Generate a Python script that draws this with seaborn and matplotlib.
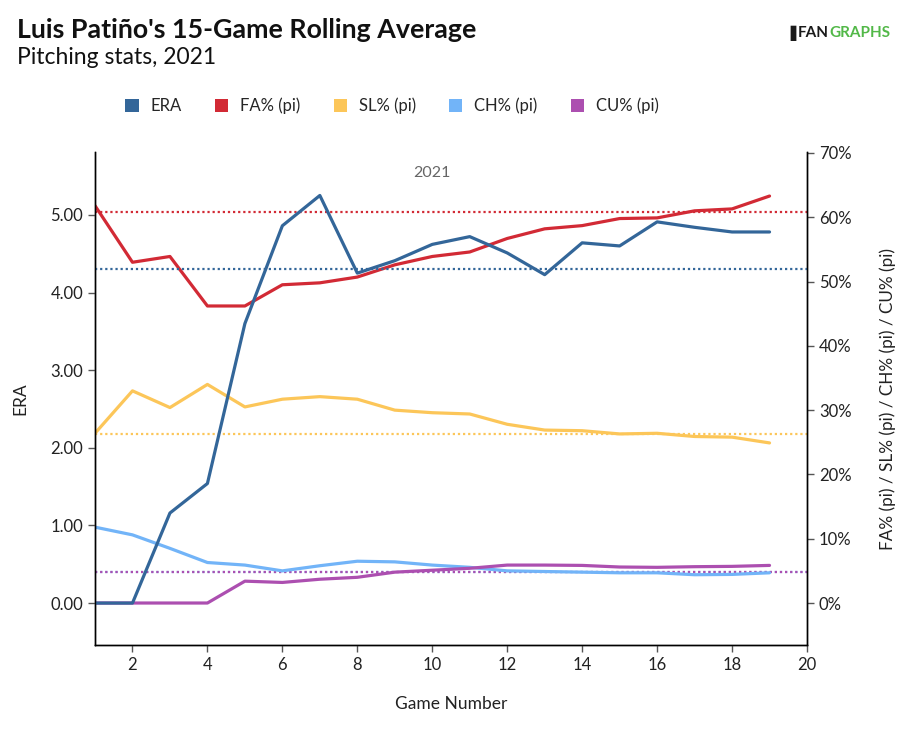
import matplotlib
matplotlib.use("Agg")
import matplotlib.pyplot as plt
import seaborn as sns
import numpy as np
import pandas as pd
from matplotlib.patches import Patch
from matplotlib.ticker import FuncFormatter

games = list(range(1, 20))
era = [0.00, 0.00, 1.16, 1.54, 3.60, 4.86, 5.25, 4.25, 4.41, 4.62, 4.72, 4.51, 4.23, 4.64, 4.60, 4.91, 4.84, 4.78, 4.78]
fa_pct = [61.8, 53.0, 53.9, 46.2, 46.2, 49.5, 49.8, 50.7, 52.6, 53.9, 54.6, 56.7, 58.2, 58.7, 59.8, 59.9, 61.0, 61.3, 63.3]
sl_pct = [26.4, 33.0, 30.4, 34.0, 30.5, 31.7, 32.1, 31.7, 30.0, 29.6, 29.4, 27.8, 26.9, 26.8, 26.3, 26.4, 25.9, 25.8, 24.9]
ch_pct = [11.8, 10.6, 8.5, 6.3, 5.9, 5.0, 5.8, 6.5, 6.4, 5.9, 5.55, 5.0, 4.9, 4.8, 4.7, 4.7, 4.4, 4.45, 4.7]
cu_pct = [0.0, 0.0, 0.0, 0.0, 3.4, 3.2, 3.7, 4.0, 4.8, 5.1, 5.4, 5.9, 5.9, 5.85, 5.6, 5.55, 5.65, 5.7, 5.85]
avg_era = 4.30
avg_fa = 60.8
avg_sl = 26.3
avg_ch = 4.9
avg_cu = 4.9

series_names = ["ERA", "FA% (pi)", "SL% (pi)", "CH% (pi)", "CU% (pi)"]
colors = {"ERA": "#336699", "FA% (pi)": "#d22a35", "SL% (pi)": "#fcc659",
          "CH% (pi)": "#72b4f8", "CU% (pi)": "#ac4fb0"}

sns.set_theme(style="white")
plt.rcParams['font.family'] = ['Lato', 'DejaVu Sans']

fig = plt.figure(figsize=(9.07, 7.3), dpi=100)
ax = fig.add_axes([95/907, 1-645/730, (807-95)/907, (645-152)/730])
ax2 = ax.twinx()

df_era = pd.DataFrame({"game": games, "val": era})
pct_df = pd.DataFrame({"game": games * 4,
                       "val": fa_pct + sl_pct + ch_pct + cu_pct,
                       "series": ["FA% (pi)"] * 19 + ["SL% (pi)"] * 19 + ["CH% (pi)"] * 19 + ["CU% (pi)"] * 19})

lw = 2.3
dot = (0, (1, 1.3))
ax2.axhline(avg_fa, color=colors["FA% (pi)"], ls=dot, lw=1.6, zorder=1)
ax2.axhline(avg_sl, color=colors["SL% (pi)"], ls=dot, lw=1.6, zorder=1)
ax2.axhline(avg_ch, color=colors["CH% (pi)"], ls=dot, lw=1.6, zorder=1)
ax2.axhline(avg_cu, color=colors["CU% (pi)"], ls=dot, lw=1.6, zorder=1)
ax.axhline(avg_era, color=colors["ERA"], ls=dot, lw=1.6, zorder=1)

sns.lineplot(data=pct_df, x="game", y="val", hue="series", palette=colors, ax=ax2,
             linewidth=lw, legend=False, sort=False)
ax.set_zorder(ax2.get_zorder() + 1)
ax.patch.set_visible(False)
sns.lineplot(data=df_era, x="game", y="val", color=colors["ERA"], ax=ax, linewidth=lw)

ax.set_xlim(1, 20)
ax.set_ylim(-0.54, 5.81)
ax2.set_ylim(-6.53, 70.15)
ax.set_xticks(range(2, 21, 2))
ax.set_yticks([0, 1, 2, 3, 4, 5])
ax.yaxis.set_major_formatter(FuncFormatter(lambda v, p: f"{v:.2f}"))
ax2.set_yticks(range(0, 71, 10))
ax2.yaxis.set_major_formatter(FuncFormatter(lambda v, p: f"{int(v)}%"))

for a in (ax, ax2):
    for s in a.spines.values():
        s.set_color("#000000")
        s.set_linewidth(1.0)
    a.spines["top"].set_visible(False)
ax.tick_params(axis="both", which="major", length=5, width=1, color="#555555",
               labelsize=12, labelcolor="#222222", left=True, bottom=True, direction="out")
ax2.tick_params(axis="y", length=5, width=1, color="#555555", labelsize=12,
                labelcolor="#222222", right=True, direction="out")

ax.set_xlabel("Game Number", fontsize=12.5, color="#222222", labelpad=17)
ax.set_ylabel("ERA", fontsize=12.5, color="#222222", labelpad=16)
ax2.set_ylabel("FA% (pi) / SL% (pi) / CH% (pi) / CU% (pi)", fontsize=12.3, color="#222222", labelpad=20)

ax.text(0.473, 0.957, "2021", transform=ax.transAxes, ha="center", va="center",
        fontsize=11.5, color="#666666")

fig.text(17/907, 1-30/730, "Luis Patiño's 15-Game Rolling Average", fontsize=19.3,
         fontweight="bold", color="#111111", ha="left", va="center")
fig.text(17/907, 1-58/730, "Pitching stats, 2021", fontsize=16.5, color="#111111",
         ha="left", va="center")

# logo
t_g = fig.text(890/907, 1-33/730, "GRAPHS", fontsize=11, fontweight="bold", color="#52b848",
               ha="right", va="center")
fig.canvas.draw()
bb = t_g.get_window_extent()
t_f = fig.text(bb.x0 / fig.bbox.width, 1-33/730, "FAN", fontsize=11, fontweight="bold",
               color="#1a1a1a", ha="right", va="center")
fig.canvas.draw()
bb2 = t_f.get_window_extent()
fig.text((bb2.x0 - 2) / fig.bbox.width, 1-33/730, "\u2590", fontsize=10.5, color="#1a1a1a",
         ha="right", va="center", family="DejaVu Sans")

handles = [Patch(facecolor=colors[n], edgecolor="none") for n in series_names]
fig.legend(handles, series_names, loc="center", bbox_to_anchor=(392/907, 1-106/730),
           ncol=5, frameon=False, fontsize=12, handlelength=0.8, handleheight=0.8,
           handletextpad=0.7, columnspacing=2.0)

fig.savefig("out.png", dpi=100)
